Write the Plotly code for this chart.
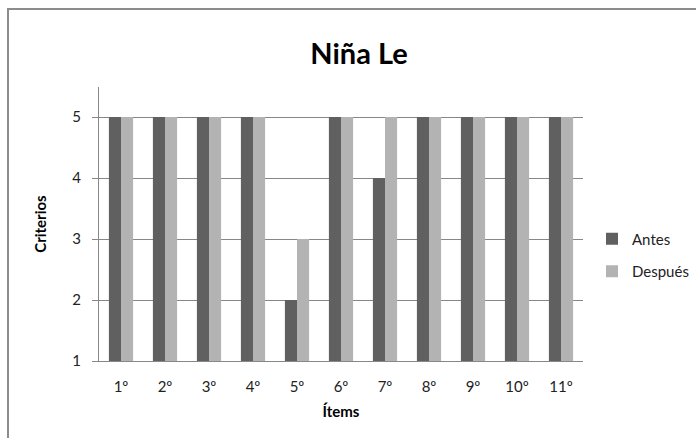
import plotly.graph_objects as go

items = ["1º", "2º", "3º", "4º", "5º", "6º", "7º", "8º", "9º", "10º", "11º"]
antes = [5, 5, 5, 5, 2, 5, 4, 5, 5, 5, 5]
despues = [5, 5, 5, 5, 3, 5, 5, 5, 5, 5, 5]

BASE = 1
FONT = "Lato"
GRID = "#878787"

fig = go.Figure()
fig.add_trace(go.Bar(
    name="Antes", x=items, y=[v - BASE for v in antes], base=BASE,
    legendgroup="a",
    marker=dict(color="#606060", line=dict(width=0)),
))
fig.add_trace(go.Bar(
    name="Después", x=items, y=[v - BASE for v in despues], base=BASE,
    legendgroup="d",
    marker=dict(color="#b3b3b3", line=dict(width=0)),
))

L, R, T, B = 99, 113, 87, 77
W, H = 696, 438
pw, ph = W - L - R, H - T - B

fig.update_layout(
    width=W, height=H,
    margin=dict(l=L, r=R, t=T, b=B, pad=0, autoexpand=False),
    paper_bgcolor="white", plot_bgcolor="white",
    barmode="group", bargap=0.45, bargroupgap=0,
    font=dict(family=FONT, size=14, color="#222222"),
    title=dict(text="<b>Niña Le</b>", x=359 / W, xref="container", xanchor="center",
               y=1 - 54 / H, yref="container", yanchor="middle",
               font=dict(family=FONT, size=29, color="#000000")),
    legend=dict(x=(592 - L) / pw, y=(361 - 255) / ph, xanchor="left", yanchor="middle",
                font=dict(family=FONT, size=15, color="#222222"),
                itemwidth=30, tracegroupgap=10, bgcolor="rgba(0,0,0,0)"),
    xaxis=dict(
        showline=True, linecolor=GRID, linewidth=1,
        ticks="", tickfont=dict(size=15), ticklabelstandoff=12,
        title=dict(text="<b>Ítems</b>", font=dict(size=15, color="#000000"), standoff=12),
    ),
    yaxis=dict(
        range=[1, 5 + (117 - 87) / 61.0], tickvals=[1, 2, 3, 4, 5],
        showgrid=True, gridcolor=GRID, gridwidth=1,
        showline=True, linecolor=GRID, linewidth=1,
        ticks="outside", ticklen=6, tickcolor=GRID,
        tickfont=dict(size=15), ticklabelstandoff=8,
        zeroline=False,
        title=dict(text="<b>Criterios</b>", font=dict(size=15, color="#000000"), standoff=22),
    ),
)

# chart-area frame (left and top edges visible)
fig.add_shape(type="rect", xref="paper", yref="paper",
              x0=(8 - L) / pw, x1=1.6, y0=-0.6, y1=(H - B - 9) / ph,
              line=dict(color="#8c8c8c", width=2), fillcolor="rgba(0,0,0,0)", layer="below")

fig.write_html("out.html")
